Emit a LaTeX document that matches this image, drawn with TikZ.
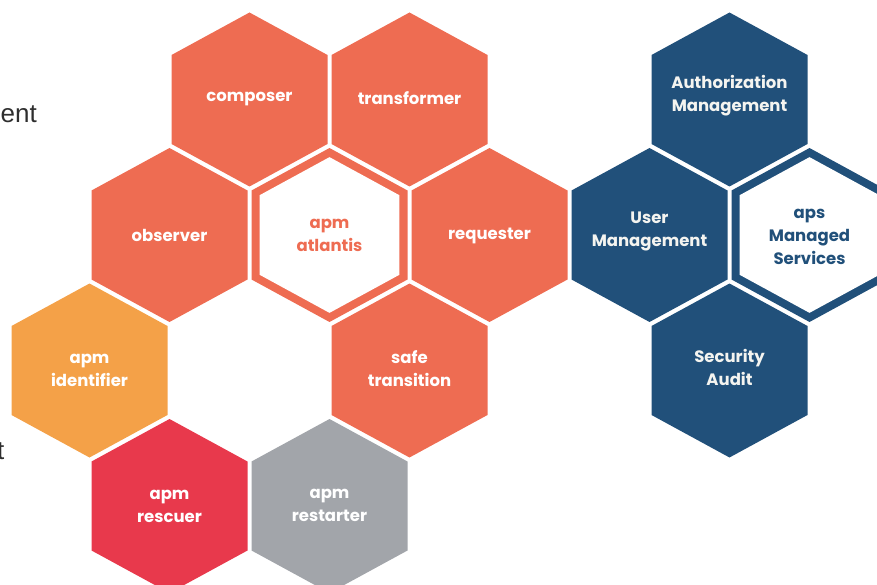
\documentclass[tikz,border=0pt]{standalone}
\usepackage{fontspec}
\setmainfont{Poppins}
\newfontfamily\sidefont{Liberation Sans}
\definecolor{hxorange}{HTML}{EE6C52}
\definecolor{hxyellow}{HTML}{F4A148}
\definecolor{hxred}{HTML}{E8394C}
\definecolor{hxgrey}{HTML}{A2A5AA}
\definecolor{hxnavy}{HTML}{21507A}
\definecolor{hxtext}{HTML}{F4F4F0}
\definecolor{sidegrey}{HTML}{2E2E2E}
\tikzset{
  hexf/.pic={\path[pic actions] (0,-87) -- (78,-44.5) -- (78,44.5) -- (0,87) -- (-78,44.5) -- (-78,-44.5) -- cycle;},
  hexlabel/.style={font=\bfseries\fontsize{16.5}{23}\selectfont, align=center, text=white, inner sep=0pt},
  sidetext/.style={font=\sidefont\fontsize{26}{30}\selectfont, text=sidegrey, inner sep=0pt, anchor=base west}
}
\begin{document}
\begin{tikzpicture}[x=1pt,y=-1pt]
\useasboundingbox (0,0) rectangle (877,585);
\clip (0,0) rectangle (877,585);
% hexagons
\pic[fill=hxorange] at (249.5,99.5) {hexf};
\pic[fill=hxorange] at (409.5,99.5) {hexf};
\pic[fill=hxnavy] at (729.5,99.5) {hexf};
\pic[fill=hxorange] at (169.5,235) {hexf};
\pic[fill=hxorange] at (329.5,235) {hexf};
\pic[fill=white, scale=0.895] at (329.5,235) {hexf};
\pic[fill=hxorange] at (489.5,235) {hexf};
\pic[fill=hxnavy] at (649.5,235) {hexf};
\pic[fill=hxnavy] at (809.5,235) {hexf};
\pic[fill=white, scale=0.895] at (809.5,235) {hexf};
\pic[fill=hxyellow] at (89.5,370.5) {hexf};
\pic[fill=hxorange] at (409.5,370.5) {hexf};
\pic[fill=hxnavy] at (729.5,370.5) {hexf};
\pic[fill=hxred] at (169.5,506) {hexf};
\pic[fill=hxgrey] at (329.5,506) {hexf};
% labels
\node[hexlabel] (composer) at (249.5,99) {composer};
\node[hexlabel] (transformer) at (409.5,98.5) {transformer};
\node[hexlabel, text=hxtext] (authz) at (729.5,96) {Authorization\\Management};
\node[hexlabel] (observer) at (169.5,235) {observer};
\node[hexlabel, text=hxorange] (atlantis) at (329.5,235) {apm\\atlantis};
\node[hexlabel] (requester) at (489.5,235.5) {requester};
\node[hexlabel, text=hxtext] (usermgmt) at (649.5,231.5) {User\\Management};
\node[hexlabel, text=hxnavy] (aps) at (809.5,237) {aps\\Managed\\Services};
\node[hexlabel] (identifier) at (89.5,370.5) {apm\\identifier};
\node[hexlabel] (safe) at (409.5,368.5) {safe\\transition};
\node[hexlabel, text=hxtext] (security) at (729.5,367.5) {Security\\Audit};
\node[hexlabel] (rescuer) at (169.5,506) {apm\\rescuer};
\node[hexlabel] (restarter) at (329.5,505) {apm\\restarter};
% cut-off side texts
\node[sidetext] (sidea) at (0.5,123) {ent};
\node[sidetext] (sideb) at (-3,459) {t};
\end{tikzpicture}
\end{document}
